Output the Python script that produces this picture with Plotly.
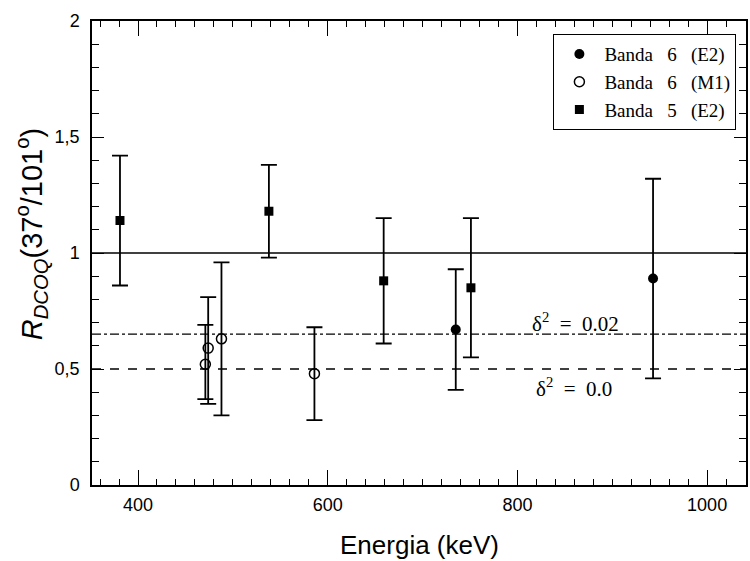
import plotly.graph_objects as go

# Banda 6 (E2) - filled circles
b6e2_x = [735, 943]
b6e2_y = [0.67, 0.89]
b6e2_hi = [0.93, 1.32]
b6e2_lo = [0.41, 0.46]

# Banda 6 (M1) - open circles
b6m1_x = [471, 474, 488, 586]
b6m1_y = [0.52, 0.59, 0.63, 0.48]
b6m1_hi = [0.69, 0.81, 0.96, 0.68]
b6m1_lo = [0.37, 0.35, 0.30, 0.28]

# Banda 5 (E2) - filled squares
b5_x = [381, 538, 659, 751]
b5_y = [1.14, 1.18, 0.88, 0.85]
b5_hi = [1.42, 1.38, 1.15, 1.15]
b5_lo = [0.86, 0.98, 0.61, 0.55]

ref_levels = [1.0, 0.65, 0.5]
ref_dash = ["solid", "dashdot", "dash"]

x_range = [351.5, 1041]
y_range = [0, 2]
x_ticks = [400, 600, 800, 1000]
y_ticks = [0, 0.5, 1, 1.5, 2]
y_ticklabels = ["0", "0,5", "1", "1,5", "2"]

SERIF = "Liberation Serif"
SANS = "Liberation Sans"
NB = "\u00a0"
GAP = NB * 2 + " "


def err(y, hi, lo):
    return dict(type="data", symmetric=False,
                array=[h - v for h, v in zip(hi, y)],
                arrayminus=[v - l for v, l in zip(y, lo)],
                color="black", thickness=1.8, width=8)


fig = go.Figure()

for lvl, d in zip(ref_levels, ref_dash):
    fig.add_shape(type="line", xref="paper", x0=0, x1=1, yref="y", y0=lvl, y1=lvl,
                  line=dict(color="black", width=1.3, dash=d), layer="below")

fig.add_trace(go.Scatter(x=b6e2_x, y=b6e2_y, mode="markers",
                         name=f"Banda{GAP}6{GAP}(E2)",
                         marker=dict(symbol="circle", size=10, color="black"),
                         error_y=err(b6e2_y, b6e2_hi, b6e2_lo)))
fig.add_trace(go.Scatter(x=b6m1_x, y=b6m1_y, mode="markers",
                         name=f"Banda{GAP}6{GAP}(M1)",
                         marker=dict(symbol="circle-open", size=10, color="black",
                                     line=dict(width=1.5, color="black")),
                         error_y=err(b6m1_y, b6m1_hi, b6m1_lo)))
fig.add_trace(go.Scatter(x=b5_x, y=b5_y, mode="markers",
                         name=f"Banda{GAP}5{GAP}(E2)",
                         marker=dict(symbol="square", size=9, color="black"),
                         error_y=err(b5_y, b5_hi, b5_lo)))

fig.add_annotation(x=861, y=0.70, text=f"δ<sup>2</sup>{NB} ={NB} 0.02", showarrow=False,
                   font=dict(family=SERIF, size=21, color="black"))
fig.add_annotation(x=860, y=0.42, text=f"δ<sup>2</sup>{NB} ={NB} 0.0", showarrow=False,
                   font=dict(family=SERIF, size=21, color="black"))

fig.add_annotation(xref="paper", yref="paper", x=-0.092, y=0.54,
                   xanchor="center", yanchor="middle",
                   text="<i>R</i><sub><i>DCOQ</i></sub>(37<sup>o</sup>/101<sup>o</sup>)",
                   textangle=-90, showarrow=False,
                   font=dict(family=SANS, size=29, color="black"))
fig.add_annotation(xref="paper", yref="paper", x=0.5, y=-0.129, yanchor="middle",
                   text="Energia (keV)", showarrow=False,
                   font=dict(family=SANS, size=26, color="black"))

fig.update_xaxes(range=x_range, tickvals=x_ticks, ticktext=[str(t) for t in x_ticks],
                 ticks="inside", ticklen=15, tickwidth=1.2, tickcolor="black",
                 minor=dict(dtick=20, tick0=0, ticks="inside", ticklen=6, tickcolor="black", tickwidth=1),
                 showline=True, linecolor="black", linewidth=1.5, mirror="ticks",
                 showgrid=False, zeroline=False, ticklabelstandoff=3,
                 tickfont=dict(family=SANS, size=18, color="black"))
fig.update_yaxes(range=y_range, tickvals=y_ticks, ticktext=y_ticklabels,
                 ticks="inside", ticklen=12, tickwidth=1.2, tickcolor="black",
                 minor=dict(dtick=0.1, tick0=0, ticks="inside", ticklen=7, tickcolor="black", tickwidth=1),
                 showline=True, linecolor="black", linewidth=1.5, mirror="ticks",
                 showgrid=False, zeroline=False, ticklabelstandoff=7,
                 tickfont=dict(family=SANS, size=18, color="black"))

fig.update_layout(width=750, height=561, margin=dict(l=92, r=2, t=21, b=76),
                  paper_bgcolor="white", plot_bgcolor="white", showlegend=True,
                  legend=dict(x=0.985, xanchor="right", y=0.972, yanchor="top",
                              bgcolor="white", bordercolor="black", borderwidth=1.2,
                              font=dict(family=SERIF, size=19, color="black"),
                              itemwidth=40, tracegroupgap=0))

fig.write_html("out.html")
